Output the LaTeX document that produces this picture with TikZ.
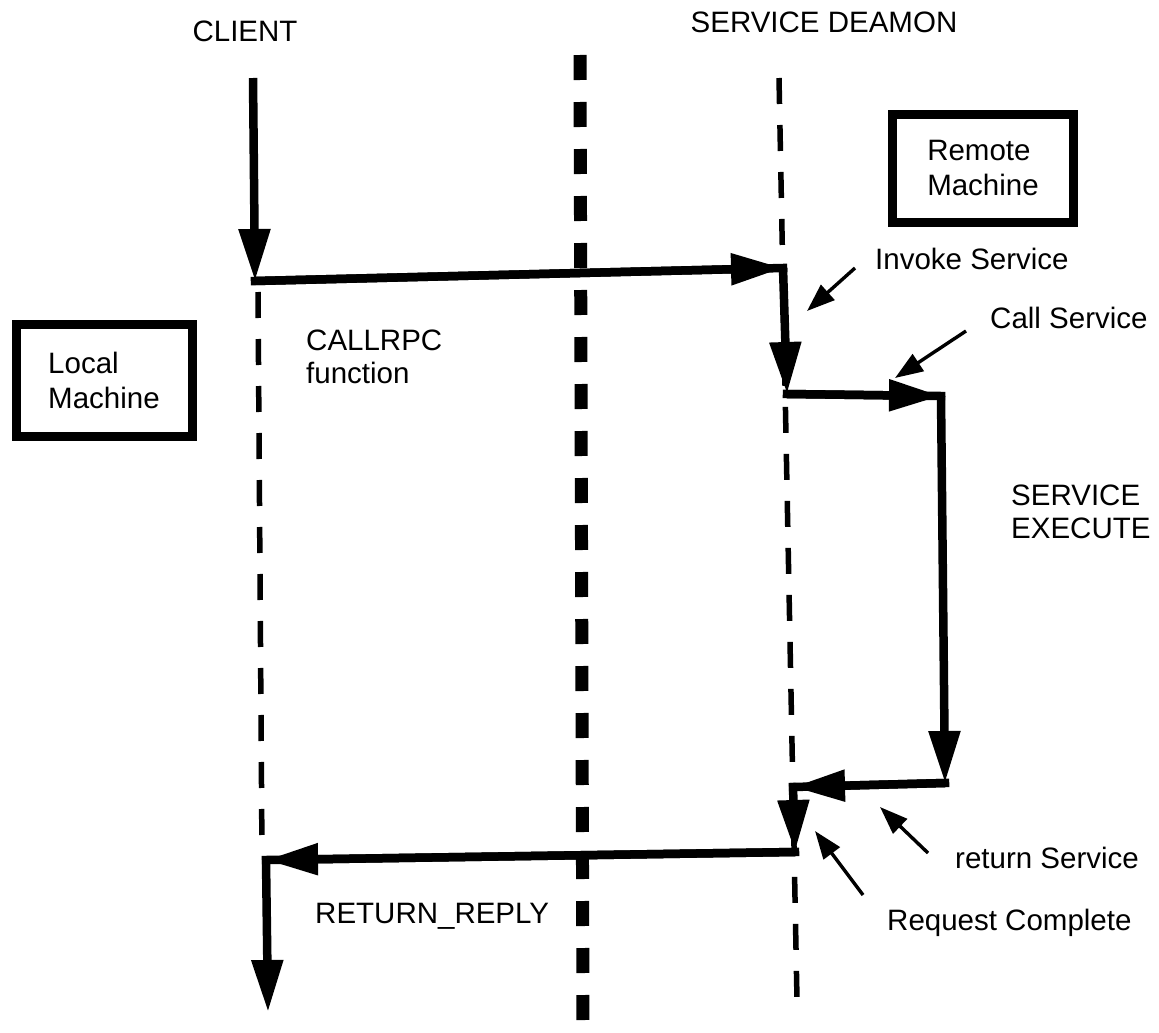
\documentclass[tikz,border=0pt]{standalone}
\usepackage{fontspec}
\setmainfont{Liberation Sans}
\usetikzlibrary{arrows.meta}
\begin{document}
\begin{tikzpicture}[x=1pt,y=-1pt,
  flow/.style={line width=8.5pt,-{Triangle[length=52pt,width=30pt]}},
  seg/.style={line width=8.5pt,line cap=rect},
  pointer/.style={line width=3.4pt,-{Triangle[length=28pt,width=20pt]}},
  lifeline/.style={line width=5.5pt,dash pattern=on 26pt off 21pt},
  divider/.style={line width=13pt,dash pattern=on 25pt off 22pt},
  lbl/.style={font=\fontsize{29.5}{33}\selectfont,inner sep=0pt,align=left},
  machine/.style={draw,line width=9pt,inner sep=0pt,font=\fontsize{29.5}{35}\selectfont,align=left}]
\useasboundingbox[fill=white] (0,0) rectangle (1159,1033);

% headers
\node[lbl] (client) at (245,31) {CLIENT};
\node[lbl] (daemon) at (824,22) {SERVICE DEAMON};

% machine boxes
\node[machine,minimum width=176pt,minimum height=112pt] (local) at (104,380) {Local\\Machine};
\node[machine,minimum width=181pt,minimum height=108pt] (remote) at (983,168) {Remote\\Machine};

% coordinates
\coordinate (c0) at (253,78);
\coordinate (c1) at (255,281);
\coordinate (c2) at (258,292);
\coordinate (c3) at (262,855);
\coordinate (c4) at (266,860);
\coordinate (c5) at (268,1012);
\coordinate (s0) at (779,78);
\coordinate (s9) at (797,1000);
\coordinate (s1) at (783,268);
\coordinate (s2) at (787,394);
\coordinate (x1) at (941,396);
\coordinate (x2) at (945,783);
\coordinate (s3) at (793,787);
\coordinate (s4) at (795,852);
\coordinate (d0) at (580,55);
\coordinate (d1) at (583,1030);

% lifelines
\draw[divider] (d0) -- (d1);
\draw[lifeline] (c2) -- (c3);
\draw[lifeline] (s0) -- (s9);

% flow
\draw[flow] (c0) -- (c1);
\draw[seg] (c1) -- (s1);
\draw[flow] (c1) -- (s1);
\draw[flow] (s1) -- (s2);
\draw[seg] (s2) -- (x1);
\draw[flow] (s2) -- (x1);
\draw[flow] (x1) -- (x2);
\draw[seg] (x2) -- (s3);
\draw[flow] (x2) -- (s3);
\draw[flow] (s3) -- (s4);
\draw[seg] (s4) -- (c4);
\draw[flow] (s4) -- (c4);
\draw[flow] (c4) -- (c5);

% labels
\node[lbl,anchor=west] (callrpc) at (306,357) {CALLRPC\\function};
\node[lbl,anchor=west] (invoke) at (875,259) {Invoke Service};
\node[lbl,anchor=west] (call) at (990,318) {Call Service};
\node[lbl,anchor=west] (exec) at (1011,512) {SERVICE\\EXECUTE};
\node[lbl,anchor=west] (ret) at (955,858) {return Service};
\node[lbl,anchor=west] (req) at (887,923) {Request Complete};
\node[lbl,anchor=west] (reply) at (315,916) {RETURN\_REPLY};

% pointer arrows
\coordinate (p1a) at (855,268);
\coordinate (p1b) at (807,311);
\coordinate (p2a) at (966,331);
\coordinate (p2b) at (895,378);
\coordinate (p3a) at (928,853);
\coordinate (p3b) at (880,807);
\coordinate (p4a) at (863,895);
\coordinate (p4b) at (815,831);
\draw[pointer] (p1a) -- (p1b);
\draw[pointer] (p2a) -- (p2b);
\draw[pointer] (p3a) -- (p3b);
\draw[pointer] (p4a) -- (p4b);
\end{tikzpicture}
\end{document}
